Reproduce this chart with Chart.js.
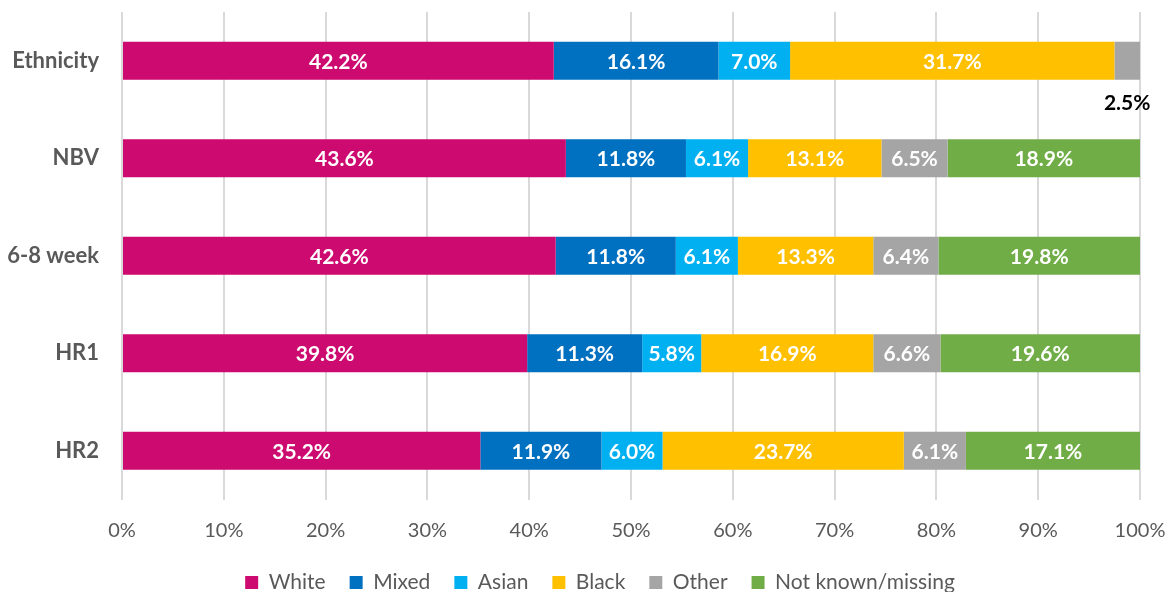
<!DOCTYPE html>
<html>
<head>
<meta charset="utf-8">
<script src="https://cdn.jsdelivr.net/npm/chart.js@4"></script>
<style>
html,body{margin:0;padding:0;background:#fff;}
#wrap{width:1173px;height:592px;position:relative;}
</style>
</head>
<body>
<div id="wrap"><canvas id="c"></canvas></div>
<script>
const categories = ['Ethnicity', 'NBV', '6-8 week', 'HR1', 'HR2'];
const white    = [42.2, 43.6, 42.6, 39.8, 35.2];
const mixed    = [16.1, 11.8, 11.8, 11.3, 11.9];
const asian    = [7.0, 6.1, 6.1, 5.8, 6.0];
const black    = [31.7, 13.1, 13.3, 16.9, 23.7];
const other    = [2.5, 6.5, 6.4, 6.6, 6.1];
const notKnown = [null, 18.9, 19.8, 19.6, 17.1];
const seriesNames = ['White', 'Mixed', 'Asian', 'Black', 'Other', 'Not known/missing'];
const xTicks = ['0%','10%','20%','30%','40%','50%','60%','70%','80%','90%','100%'];

const colors = ['#CC0A6F', '#0070C0', '#00B0F0', '#FFC000', '#A5A5A5', '#70AD47'];
const FONT = "Lato, 'Open Sans', 'DejaVu Sans', sans-serif";

const seriesData = [white, mixed, asian, black, other, notKnown];
// 100% stacked: each row is normalised to its own total (as the source chart does)
const rowTotals = categories.map((_, i) => seriesData.reduce((s, d) => s + (d[i] || 0), 0));
const normalised = seriesData.map(d => d.map((v, i) => v == null ? null : v / rowTotals[i] * 100));

const labelPlugin = {
  id: 'barLabels',
  afterDatasetsDraw(chart) {
    const ctx = chart.ctx;
    ctx.save();
    ctx.font = "bold 21px " + FONT;
    ctx.textAlign = 'center';
    ctx.textBaseline = 'middle';
    chart.data.datasets.forEach((ds, di) => {
      const meta = chart.getDatasetMeta(di);
      meta.data.forEach((bar, i) => {
        const v = seriesData[di][i];
        if (v == null) return;
        const txt = v.toFixed(1) + '%';
        const cx = (bar.x + bar.base) / 2;
        const w = Math.abs(bar.x - bar.base);
        if (w < 40) {
          ctx.fillStyle = '#000';
          ctx.fillText(txt, cx, bar.y + bar.height / 2 + 23);
        } else {
          ctx.fillStyle = '#fff';
          ctx.fillText(txt, cx, bar.y + 1);
        }
      });
    });
    ctx.restore();
  }
};

// nudge the legend block so it is centred where the source chart centres it
const legendShift = {
  id: 'legendShift',
  afterLayout(chart) {
    const lg = chart.legend;
    if (lg) { lg.left += 60; lg.width -= 60; }
  }
};

new Chart(document.getElementById('c'), {
  type: 'bar',
  data: {
    labels: categories,
    datasets: normalised.map((d, i) => ({
      label: seriesNames[i],
      data: d,
      backgroundColor: colors[i],
      borderWidth: 0,
      barPercentage: 0.39,
      categoryPercentage: 1.0
    }))
  },
  options: {
    indexAxis: 'y',
    responsive: true,
    maintainAspectRatio: false,
    animation: false,
    layout: { padding: { left: 0, right: 33, top: 12, bottom: -11 } },
    scales: {
      x: {
        stacked: true,
        min: 0, max: 100,
        border: { display: false },
        grid: { color: '#D9D9D9', lineWidth: 2, drawTicks: false },
        ticks: {
          stepSize: 10,
          padding: 19,
          color: '#595959',
          font: { family: FONT, size: 20 },
          callback: (v, idx) => xTicks[idx]
        },
        afterFit(s) { s.paddingLeft = 0; s.paddingRight = 0; s.height -= 13.5; }
      },
      y: {
        stacked: true,
        border: { display: false },
        grid: { display: false, drawTicks: false },
        ticks: {
          padding: 23,
          color: '#595959',
          font: { family: FONT, size: 22, weight: 'bold' }
        },
        afterFit(s) { s.width = 122; s.paddingTop = 0; s.paddingBottom = 0; }
      }
    },
    plugins: {
      legend: {
        position: 'bottom',
        labels: {
          boxWidth: 13, boxHeight: 13,
          padding: 24,
          color: '#595959',
          font: { family: FONT, size: 21 }
        }
      },
      tooltip: { enabled: false }
    }
  },
  plugins: [labelPlugin, legendShift]
});
</script>
</body>
</html>
